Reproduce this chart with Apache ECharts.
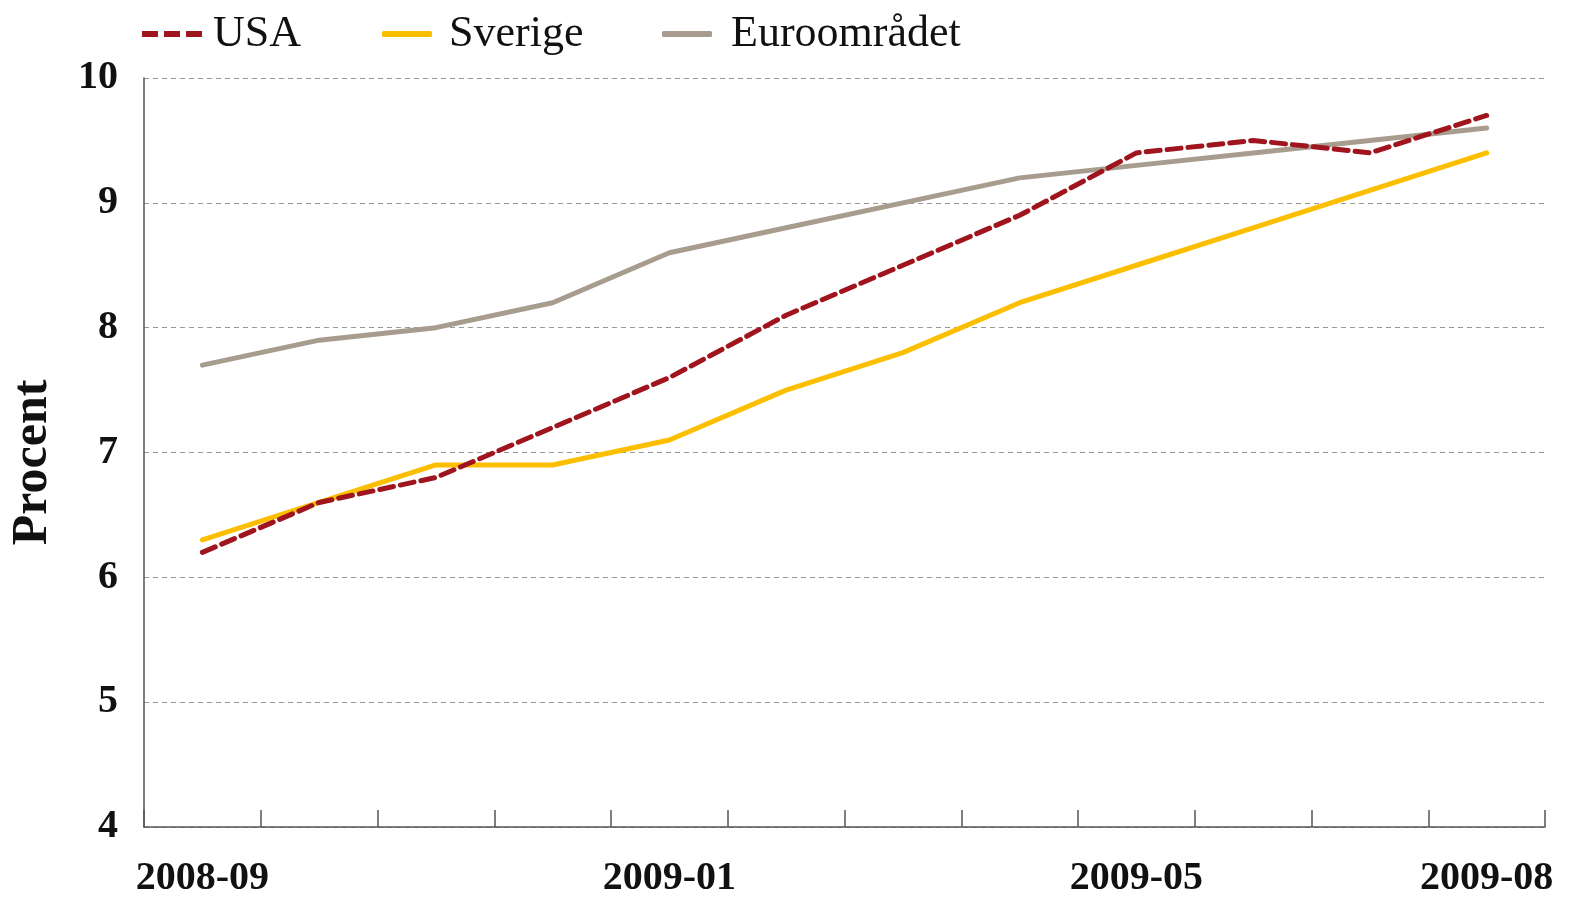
<!DOCTYPE html>
<html>
<head>
<meta charset="utf-8">
<script src="https://cdn.jsdelivr.net/npm/echarts@6/dist/echarts.min.js"></script>
<style>
html,body{margin:0;padding:0;background:#fff;}
#chart{width:1576px;height:899px;}
</style>
</head>
<body>
<div id="chart"></div>
<script>
const categories = ['2008-09','2008-10','2008-11','2008-12','2009-01','2009-02','2009-03','2009-04','2009-05','2009-06','2009-07','2009-08'];
const usa = [6.2, 6.6, 6.8, 7.2, 7.6, 8.1, 8.5, 8.9, 9.4, 9.5, 9.4, 9.7];
const sverige = [6.3, 6.6, 6.9, 6.9, 7.1, 7.5, 7.8, 8.2, 8.5, 8.8, 9.1, 9.4];
const euro = [7.7, 7.9, 8.0, 8.2, 8.6, 8.8, 9.0, 9.2, 9.3, 9.4, 9.5, 9.6];
const seriesNames = ['USA', 'Sverige', 'Euroområdet'];
const colors = ['#a0141e', '#fbbf00', '#a89c8e'];

const font = '"Liberation Serif", "DejaVu Serif", serif';
const legendText = (pad) => ({ fontFamily: font, fontSize: 44, fontWeight: 'normal', color: '#111', padding: [0,0,0,pad] });
const chart = echarts.init(document.getElementById('chart'));
chart.setOption({
  animation: false,
  textStyle: { fontFamily: font },
  legend: [
    { left: 137, top: 7, itemWidth: 60, itemHeight: 6, textStyle: legendText(6),
      data: [{ name: seriesNames[0], icon: 'path://M0,0h16v6h-16z M22,0h16v6h-16z M44,0h16v6h-16z' }] },
    { left: 377, top: 7, itemWidth: 50, itemHeight: 6, textStyle: legendText(12),
      data: [{ name: seriesNames[1], icon: 'roundRect' }] },
    { left: 657, top: 7, itemWidth: 50, itemHeight: 6, textStyle: legendText(14),
      data: [{ name: seriesNames[2], icon: 'roundRect' }] }
  ],
  grid: { left: 143, right: 31, top: 78, bottom: 70 },
  xAxis: {
    type: 'category',
    data: categories,
    boundaryGap: true,
    axisLine: { lineStyle: { color: '#555', width: 1.5 } },
    axisTick: { show: true, inside: true, interval: 0, length: 17, lineStyle: { color: '#555', width: 1.5 } },
    axisLabel: {
      interval: (i) => i % 4 === 0 || i === categories.length - 1,
      fontFamily: font, fontSize: 40, fontWeight: 'bold', color: '#111', margin: 32
    },
    splitLine: { show: false }
  },
  yAxis: {
    type: 'value', min: 4, max: 10, interval: 1,
    name: 'Procent', nameLocation: 'middle', nameGap: 86, nameRotate: 90,
    nameTextStyle: { fontFamily: font, fontSize: 50, fontWeight: 'bold', color: '#111', padding: [0,20,0,0] },
    axisLine: { show: true, lineStyle: { color: '#555', width: 1.5 } },
    axisTick: { show: false },
    axisLabel: { fontFamily: font, fontSize: 40, fontWeight: 'bold', color: '#111', margin: 26 },
    splitLine: { show: true, lineStyle: { color: '#999', type: [5, 4], width: 1 } }
  },
  series: [
    { name: seriesNames[0], type: 'line', data: usa, symbol: 'none', z: 4,
      itemStyle: { color: colors[0] },
      lineStyle: { color: colors[0], width: 5, type: [14, 7], cap: 'round' } },
    { name: seriesNames[1], type: 'line', data: sverige, symbol: 'none', z: 3,
      itemStyle: { color: colors[1] },
      lineStyle: { color: colors[1], width: 5, cap: 'round' } },
    { name: seriesNames[2], type: 'line', data: euro, symbol: 'none', z: 2,
      itemStyle: { color: colors[2] },
      lineStyle: { color: colors[2], width: 5, cap: 'round' } }
  ]
});
</script>
</body>
</html>
